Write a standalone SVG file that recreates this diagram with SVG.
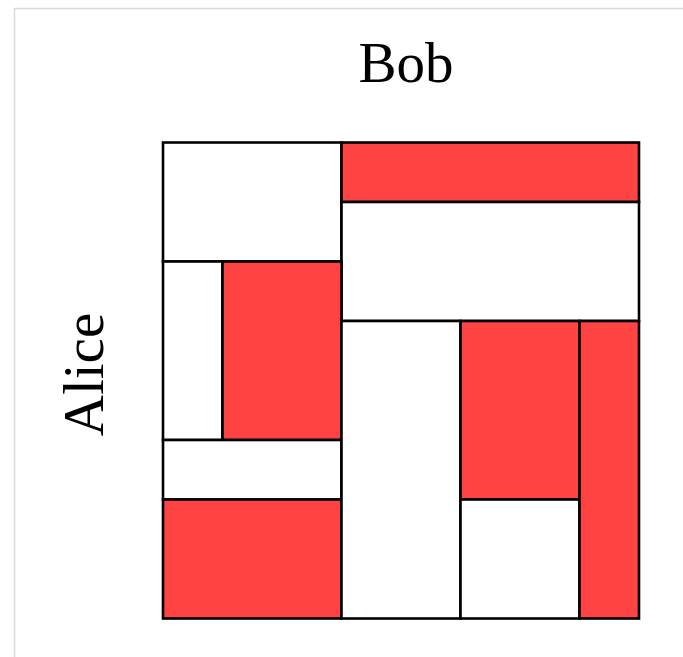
<svg xmlns="http://www.w3.org/2000/svg" width="683" height="657" viewBox="0 0 683 657">
<style>
.cell{stroke:#000;stroke-width:2.6}
.w{fill:#ffffff}
.r{fill:#ff4343}
.lbl{font-family:"Liberation Serif","Times New Roman",serif;font-size:57px;fill:#000;text-anchor:middle}
</style>
<rect x="0" y="0" width="683" height="657" fill="#ffffff"/>
<rect x="14.5" y="8.5" width="700" height="700" fill="none" stroke="#d9d9d9" stroke-width="1.5"/>
<g id="cells">
<rect id="c1" class="cell w" x="163" y="142.5" width="178.5" height="119"/>
<rect id="c2" class="cell r" x="341.5" y="142.5" width="297.5" height="59.5"/>
<rect id="c3" class="cell w" x="341.5" y="202" width="297.5" height="119"/>
<rect id="c4" class="cell w" x="163" y="261.5" width="59.5" height="178.5"/>
<rect id="c5" class="cell r" x="222.5" y="261.5" width="119" height="178.5"/>
<rect id="c6" class="cell w" x="163" y="440" width="178.5" height="59.5"/>
<rect id="c7" class="cell r" x="163" y="499.5" width="178.5" height="119"/>
<rect id="c8" class="cell w" x="341.5" y="321" width="119" height="297.5"/>
<rect id="c9" class="cell r" x="460.5" y="321" width="119" height="178.5"/>
<rect id="c10" class="cell w" x="460.5" y="499.5" width="119" height="119"/>
<rect id="c11" class="cell r" x="579.5" y="321" width="59.5" height="297.5"/>
</g>
<g id="labels">
<text id="bob" class="lbl" x="406" y="82">Bob</text>
<text id="alice" class="lbl" transform="translate(103,374.5) rotate(-90)" x="0" y="0">Alice</text>
</g>
</svg>
